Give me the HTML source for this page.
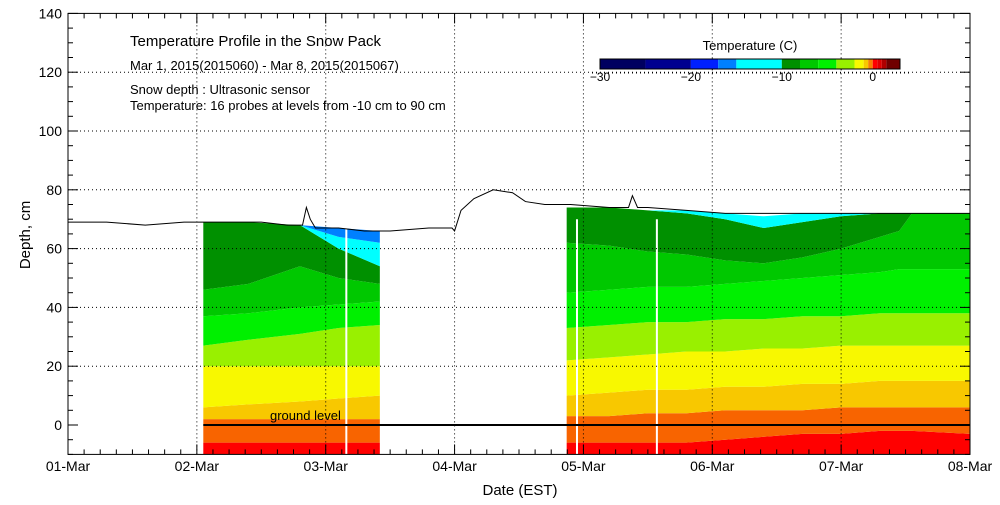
<!DOCTYPE html>
<html><head><meta charset="utf-8"><style>
body{margin:0;background:#fff}
svg text{font-family:"Liberation Sans",sans-serif;fill:#000}
</style></head><body>
<svg id="chart" width="1000" height="500" viewBox="0 0 1000 500" xmlns="http://www.w3.org/2000/svg">
<rect width="1000" height="500" fill="#fff"/>
<g id="bands"></g>
<g id="grid"></g>
<g id="snow"></g>
<g id="axes"></g>
<g id="legend"></g>
<text x="130" y="46" font-size="15">Temperature Profile in the Snow Pack</text>
<text x="130" y="70" font-size="13">Mar  1, 2015(2015060) - Mar  8, 2015(2015067)</text>
<text x="130" y="94" font-size="13">Snow depth : Ultrasonic sensor</text>
<text x="130" y="110" font-size="13">Temperature: 16 probes at levels from -10 cm to 90 cm</text>
<text x="520" y="495" font-size="15" text-anchor="middle">Date (EST)</text>
<text x="30" y="235" font-size="15" text-anchor="middle" transform="rotate(-90 30 235)">Depth, cm</text>
</svg>
<script>
const NS='http://www.w3.org/2000/svg';
const dayLabels=['01-Mar','02-Mar','03-Mar','04-Mar','05-Mar','06-Mar','07-Mar','08-Mar'];
const yTicks=[0,20,40,60,80,100,120,140];
const bandColors=['#ff0000','#f86400','#f8c800','#f8f800','#99f000','#00f000','#00c800','#009000','#00ffff','#0080ff'];
// segment 1 (days since Mar 1)
const seg1Times=[1.05,1.4,1.8,2.1,2.42];
const seg1Bounds=[
 [-10,-10,-10,-10,-10],
 [-6,-6,-6,-6,-6],
 [2,2,2,2,2],
 [6,7,8,9,10],
 [20,20,20,20,20],
 [27,29,31,33,34],
 [37,38,40,41,42],
 [46,48,54,50,48],
 [69,69,68,60,54],
 [69,69,68,64,62],
 [69,69,68,67,66]
];
// segment 2
const seg2Times=[3.87,4.2,4.5,4.8,5.1,5.4,5.7,6.0,6.3,6.45,6.55,7.0];
const seg2Bounds=[
 [-10,-10,-10,-10,-10,-10,-10,-10,-10,-10,-10,-10],
 [-6,-6,-6,-6,-5,-4,-3,-3,-2,-2,-2,-3],
 [3,3,4,4,5,5,5,6,6,6,6,6],
 [10,11,12,12,13,13,14,14,15,15,15,15],
 [22,23,24,25,25,26,26,27,27,27,27,27],
 [33,34,35,35,36,36,37,37,38,38,38,38],
 [45,46,47,47,48,49,50,51,52,53,53,53],
 [62,61,59,58,56,55,57,60,64,66,72,72],
 [74,74,73,72,70,67,69,71,72,72,72,72],
 [74,74,73,73,72,71,72,72,72,72,72,72],
 [74,74,73,73,72,71,72,72,72,72,72,72]
];
const snowTimes=[0,0.3,0.6,0.9,1.2,1.5,1.7,1.82,1.85,1.88,1.92,2.1,2.3,2.5,2.8,2.98,3.0,3.05,3.15,3.3,3.45,3.55,3.7,3.9,4.2,4.35,4.38,4.42,4.5,4.8,5.1,5.4,5.7,6.0,6.5,7.0];
const snowDepth=[69,69,68,69,69,69,68,68,74,70,67,67,66,66,67,67,66,73,77,80,79,76,75,75,74,74,78,74,74,73,72,72,72,72,72,72];
const whiteLines=[2.16,3.95,4.57];
const legendStops=[-30,-25,-20,-17,-15,-10,-8,-6,-4,-2,-1,-0.5,0,0.5,1,1.5,3];
const legendColors=['#000060','#000090','#0020ff','#0080ff','#00ffff','#009000','#00c800','#00f000','#99f000','#f8f800','#f8c800','#f88000','#ff0000','#e00000','#b00000','#700000'];
const legendTicks=[-30,-20,-10,0];

const X0=68,X1=970,Y0=454.4,Y1=13.4;
const xs=d=>X0+(X1-X0)*d/7;
const ys=v=>Y0-(Y0-Y1)*(v+10)/150;
const el=(t,a,p)=>{const e=document.createElementNS(NS,t);for(const k in a)e.setAttribute(k,a[k]);p.appendChild(e);return e;};
const bands=document.getElementById('bands');
function drawSeg(times,bounds,name){
 for(let k=0;k<bounds.length-1;k++){
  let pts=times.map((t,i)=>xs(t)+','+ys(bounds[k+1][i]));
  for(let i=times.length-1;i>=0;i--)pts.push(xs(times[i])+','+ys(bounds[k][i]));
  const p=el('polygon',{points:pts.join(' '),fill:bandColors[k]},bands);
  
  
 }
}
drawSeg(seg1Times,seg1Bounds,'seg1');
drawSeg(seg2Times,seg2Bounds,'seg2');
whiteLines.forEach(t=>{const l=el('line',{x1:xs(t),x2:xs(t),y1:ys(-10),y2:ys(70),stroke:'#fff','stroke-width':2},bands);
 
 });
const grid=document.getElementById('grid');
for(let d=1;d<7;d++){const l=el('line',{x1:xs(d),x2:xs(d),y1:Y1,y2:Y0,stroke:'#000','stroke-dasharray':'1,3'},grid);
 
 }
yTicks.forEach(v=>{if(v>0&&v<140){const l=el('line',{x1:X0,x2:X1,y1:ys(v),y2:ys(v),stroke:'#000','stroke-dasharray':'1,3'},grid);
 
 }});
const gl=el('line',{x1:xs(1.05),x2:X1,y1:ys(0),y2:ys(0),stroke:'#000','stroke-width':2},grid);


const gt=el('text',{x:270,y:420,'font-size':13},grid);gt.textContent='ground level';


const snow=document.getElementById('snow');
const sl=el('polyline',{points:snowTimes.map((t,i)=>xs(t)+','+ys(snowDepth[i])).join(' '),fill:'none',stroke:'#000','stroke-width':1},snow);


const ax=document.getElementById('axes');
const fr=el('rect',{x:X0,y:Y1,width:X1-X0,height:Y0-Y1,fill:'none',stroke:'#000'},ax);


for(let i=0;i<=56;i++){const x=xs(i/8),h=i%8==0?10:5;
 el('line',{x1:x,x2:x,y1:Y0,y2:Y0-h,stroke:'#000'},ax);el('line',{x1:x,x2:x,y1:Y1,y2:Y1+h,stroke:'#000'},ax);}
for(let v=-10;v<=140;v+=5){const h=v%20==0?10:5;
 el('line',{x1:X0,x2:X0+h,y1:ys(v),y2:ys(v),stroke:'#000'},ax);el('line',{x1:X1,x2:X1-h,y1:ys(v),y2:ys(v),stroke:'#000'},ax);}
dayLabels.forEach((s,i)=>{const t=el('text',{x:xs(i),y:471,'font-size':14,'text-anchor':'middle'},ax);t.textContent=s;
 
 });
yTicks.forEach(v=>{const t=el('text',{x:62,y:ys(v)+5,'font-size':14,'text-anchor':'end'},ax);t.textContent=v;
 
 });
const lg=document.getElementById('legend');
const lx=v=>600+300*(v+30)/33;
for(let i=0;i<legendColors.length;i++){const r=el('rect',{x:lx(legendStops[i]),y:59,width:lx(legendStops[i+1])-lx(legendStops[i]),height:10,fill:legendColors[i]},lg);
 
 }
el('rect',{x:600,y:59,width:300,height:10,fill:'none',stroke:'#000'},lg);
el('line',{x1:592,x2:910,y1:73,y2:73,stroke:'#000','stroke-dasharray':'1,3'},lg);
legendTicks.forEach(v=>{const t=el('text',{x:lx(v),y:81,'font-size':12,'text-anchor':'middle'},lg);t.textContent=v==0?'0':'\u2212'+(-v);
 
 });
const lt=el('text',{x:750,y:50,'font-size':13,'text-anchor':'middle'},lg);lt.textContent='Temperature (C)';


</script>
</body></html>
